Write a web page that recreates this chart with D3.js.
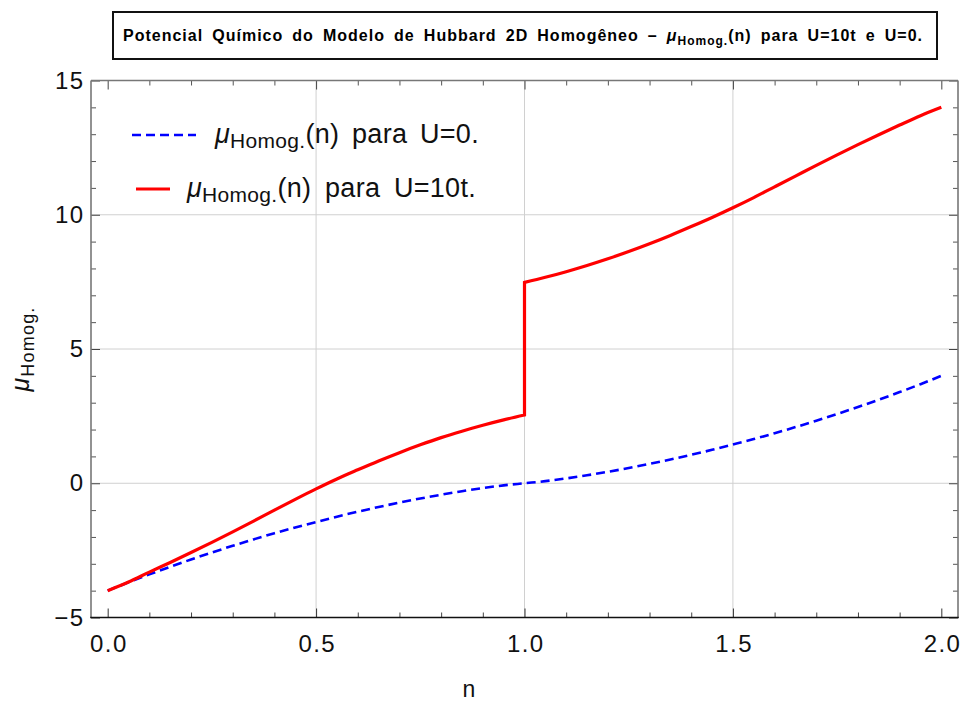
<!DOCTYPE html>
<html>
<head>
<meta charset="utf-8">
<script src="https://cdn.jsdelivr.net/npm/d3@7"></script>
<style>
  html, body { margin: 0; padding: 0; background: #fff; }
  svg { display: block; font-family: "Liberation Sans", Arial, Helvetica, sans-serif; }
</style>
</head>
<body>
<svg id="chart" width="961" height="704"></svg>
<script>
// Filling n (electrons per site)
const nAll = [0.00,0.05,0.10,0.15,0.20,0.25,0.30,0.35,0.40,0.45,0.50,0.55,0.60,0.65,0.70,0.75,0.80,0.85,0.90,0.95,1.00,
              1.05,1.10,1.15,1.20,1.25,1.30,1.35,1.40,1.45,1.50,1.55,1.60,1.65,1.70,1.75,1.80,1.85,1.90,1.95,2.00];

// Chemical potential, U = 0 (free band)
const muU0 = [-4.00,-3.69,-3.395,-3.112,-2.839,-2.579,-2.329,-2.091,-1.863,-1.646,-1.443,-1.245,-1.059,-0.884,-0.720,-0.568,-0.427,-0.297,-0.180,-0.078,0.000,
              0.078,0.180,0.297,0.427,0.568,0.720,0.884,1.059,1.245,1.443,1.646,1.863,2.091,2.329,2.579,2.839,3.112,3.395,3.690,4.000];

// Chemical potential, U = 10t: lower branch (n <= 1) and upper branch (n >= 1)
const nBelow = nAll.slice(0, 21);
const nAbove = nAll.slice(20);
const muU10Below = [-4.00,-3.68,-3.31,-2.95,-2.58,-2.20,-1.81,-1.41,-1.00,-0.60,-0.21,0.16,0.50,0.83,1.14,1.43,1.70,1.94,2.16,2.36,2.54];
const muU10Above = [7.48,7.67,7.88,8.11,8.36,8.63,8.92,9.23,9.56,9.90,10.26,10.64,11.04,11.44,11.84,12.23,12.61,12.98,13.34,13.69,14.00];

// Axis ticks
const xMajor = [0, 0.5, 1, 1.5, 2];
const xMinor = [0.1,0.2,0.3,0.4,0.6,0.7,0.8,0.9,1.1,1.2,1.3,1.4,1.6,1.7,1.8,1.9];
const xTickLabels = ["0.0", "0.5", "1.0", "1.5", "2.0"];
const yMajor = [-5, 0, 5, 10, 15];
const yMinor = [-4,-3,-2,-1,1,2,3,4,6,7,8,9,11,12,13,14];
const yTickLabels = ["\u22125", "0", "5", "10", "15"];
const xGrid = [0.5, 1, 1.5];
const yGrid = [0, 5, 10];

const svg = d3.select("#chart");
const plotLeft = 91, plotRight = 958, plotTop = 80.5, plotBottom = 617.5;

const x = d3.scaleLinear().domain([-0.04, 2.04]).range([plotLeft, plotRight]);
const y = d3.scaleLinear().domain([-5, 15]).range([plotBottom, plotTop]);

// Grid lines
const grid = svg.append("g").attr("stroke", "#d0d0d0").attr("stroke-width", 1);
grid.selectAll("line.gx").data(xGrid).join("line").attr("class", "gx")
  .attr("x1", d => x(d)).attr("x2", d => x(d)).attr("y1", plotTop).attr("y2", plotBottom);
grid.selectAll("line.gy").data(yGrid).join("line").attr("class", "gy")
  .attr("x1", plotLeft).attr("x2", plotRight).attr("y1", d => y(d)).attr("y2", d => y(d));

// Axes (ticks point into the frame)
function styleAxis(g, color) {
  g.select(".domain").remove();
  g.selectAll(".tick line").attr("stroke", color).attr("stroke-width", 1);
  g.selectAll(".tick text").attr("fill", "#111").attr("font-size", 24)
    .attr("letter-spacing", 1.4)
    .attr("font-family", "'Liberation Sans', Arial, sans-serif");
}

const bottomMajor = svg.append("g").attr("transform", `translate(0,${plotBottom})`)
  .call(d3.axisBottom(x).tickValues(xMajor).tickSize(-9).tickPadding(17)
        .tickFormat((d, i) => xTickLabels[i]));
styleAxis(bottomMajor, "#333");
bottomMajor.selectAll(".tick text").attr("dx", 0.7);
const bottomMinor = svg.append("g").attr("transform", `translate(0,${plotBottom})`)
  .call(d3.axisBottom(x).tickValues(xMinor).tickSize(-5).tickFormat(""));
styleAxis(bottomMinor, "#444");

const topMajor = svg.append("g").attr("transform", `translate(0,${plotTop})`)
  .call(d3.axisTop(x).tickValues(xMajor).tickSize(-9).tickFormat(""));
styleAxis(topMajor, "#444");
const topMinor = svg.append("g").attr("transform", `translate(0,${plotTop})`)
  .call(d3.axisTop(x).tickValues(xMinor).tickSize(-5).tickFormat(""));
styleAxis(topMinor, "#555");

const leftMajor = svg.append("g").attr("transform", `translate(${plotLeft},0)`)
  .call(d3.axisLeft(y).tickValues(yMajor).tickSize(-9).tickPadding(8)
        .tickFormat((d, i) => yTickLabels[i]));
styleAxis(leftMajor, "#444");
leftMajor.selectAll(".tick text").attr("dx", 1.4);
const leftMinor = svg.append("g").attr("transform", `translate(${plotLeft},0)`)
  .call(d3.axisLeft(y).tickValues(yMinor).tickSize(-5).tickFormat(""));
styleAxis(leftMinor, "#555");

const rightMajor = svg.append("g").attr("transform", `translate(${plotRight},0)`)
  .call(d3.axisRight(y).tickValues(yMajor).tickSize(-9).tickFormat(""));
styleAxis(rightMajor, "#444");
const rightMinor = svg.append("g").attr("transform", `translate(${plotRight},0)`)
  .call(d3.axisRight(y).tickValues(yMinor).tickSize(-5).tickFormat(""));
styleAxis(rightMinor, "#555");

// Frame
const frame = svg.append("g").attr("stroke-width", 1.6).attr("fill", "none");
frame.append("line").attr("x1", plotLeft).attr("x2", plotRight).attr("y1", plotTop).attr("y2", plotTop).attr("stroke", "#777");
frame.append("line").attr("x1", plotRight).attr("x2", plotRight).attr("y1", plotTop).attr("y2", plotBottom).attr("stroke", "#777");
frame.append("line").attr("x1", plotLeft).attr("x2", plotLeft).attr("y1", plotTop).attr("y2", plotBottom).attr("stroke", "#777");
frame.append("line").attr("x1", plotLeft - 0.8).attr("x2", plotRight + 0.8).attr("y1", plotBottom).attr("y2", plotBottom).attr("stroke", "#111");

// Curves
const line = d3.line().x(d => x(d[0])).y(d => y(d[1])).curve(d3.curveMonotoneX);

const blueData = nAll.map((n, i) => [n, muU0[i]]);
svg.append("path")
  .attr("d", line(blueData))
  .attr("fill", "none").attr("stroke", "#0000ff").attr("stroke-width", 2.6)
  .attr("stroke-dasharray", "9,5");

const redLow = nBelow.map((n, i) => [n, muU10Below[i]]);
const redHigh = nAbove.map((n, i) => [n, muU10Above[i]]);
svg.append("path")
  .attr("d", line(redLow) + line(redHigh).replace(/^M/, "L"))
  .attr("fill", "none").attr("stroke", "#ff0000").attr("stroke-width", 3.2)
  .attr("stroke-linejoin", "miter");

// Widen the gaps between words so a text element spans a given width
function fitWords(sel, width) {
  const w = sel.node().getComputedTextLength();
  const spaces = (sel.text().match(/ /g) || []).length;
  sel.attr("word-spacing", Math.max(0, (width - w) / spaces));
}

// Legend
function legendLabel(g, tx, ty, rest, width) {
  const t = g.append("text").attr("x", tx).attr("y", ty).attr("font-size", 27)
    .attr("letter-spacing", 0.3).attr("fill", "#111");
  t.append("tspan").attr("font-style", "italic").text("\u03bc");
  t.append("tspan").attr("font-size", 21).attr("dy", 5).text("Homog.");
  t.append("tspan").attr("dy", -5).text(rest);
  fitWords(t, width);
  return t;
}
const legend = svg.append("g");
legend.append("line").attr("x1", 132).attr("x2", 196).attr("y1", 135).attr("y2", 135)
  .attr("stroke", "#0000ff").attr("stroke-width", 2.6).attr("stroke-dasharray", "9,5");
legendLabel(legend, 215, 143, "(n) para U=0.", 264);
legend.append("line").attr("x1", 136).attr("x2", 170).attr("y1", 189).attr("y2", 189)
  .attr("stroke", "#ff0000").attr("stroke-width", 3.2);
legendLabel(legend, 187, 197, "(n) para U=10t.", 289);

// Axis titles
svg.append("text").attr("x", 469).attr("y", 697).attr("text-anchor", "middle")
  .attr("font-size", 23).attr("fill", "#111").text("n");

const yt = svg.append("text").attr("transform", "translate(29,349) rotate(-90)")
  .attr("text-anchor", "middle").attr("font-size", 25).attr("letter-spacing", 1.2).attr("fill", "#111");
yt.append("tspan").attr("font-style", "italic").text("\u03bc");
yt.append("tspan").attr("font-size", 18).attr("dy", 5).text("Homog.");

// Title in a framed box
svg.append("rect").attr("x", 113).attr("y", 12).attr("width", 824).attr("height", 47)
  .attr("fill", "#fff").attr("stroke", "#111").attr("stroke-width", 2);
const title = svg.append("text").attr("x", 123).attr("y", 41)
  .attr("font-size", 16).attr("font-weight", "bold").attr("fill", "#000")
  .attr("letter-spacing", 1.0);
title.append("tspan").text("Potencial Químico do Modelo de Hubbard 2D Homogêneo \u2013 ");
title.append("tspan").attr("font-style", "italic").text("\u03bc");
title.append("tspan").attr("font-size", 12).attr("dy", 4).text("Homog.");
title.append("tspan").attr("dy", -4).text("(n) para U=10t e U=0.");
fitWords(title, 800);
</script>
</body>
</html>
